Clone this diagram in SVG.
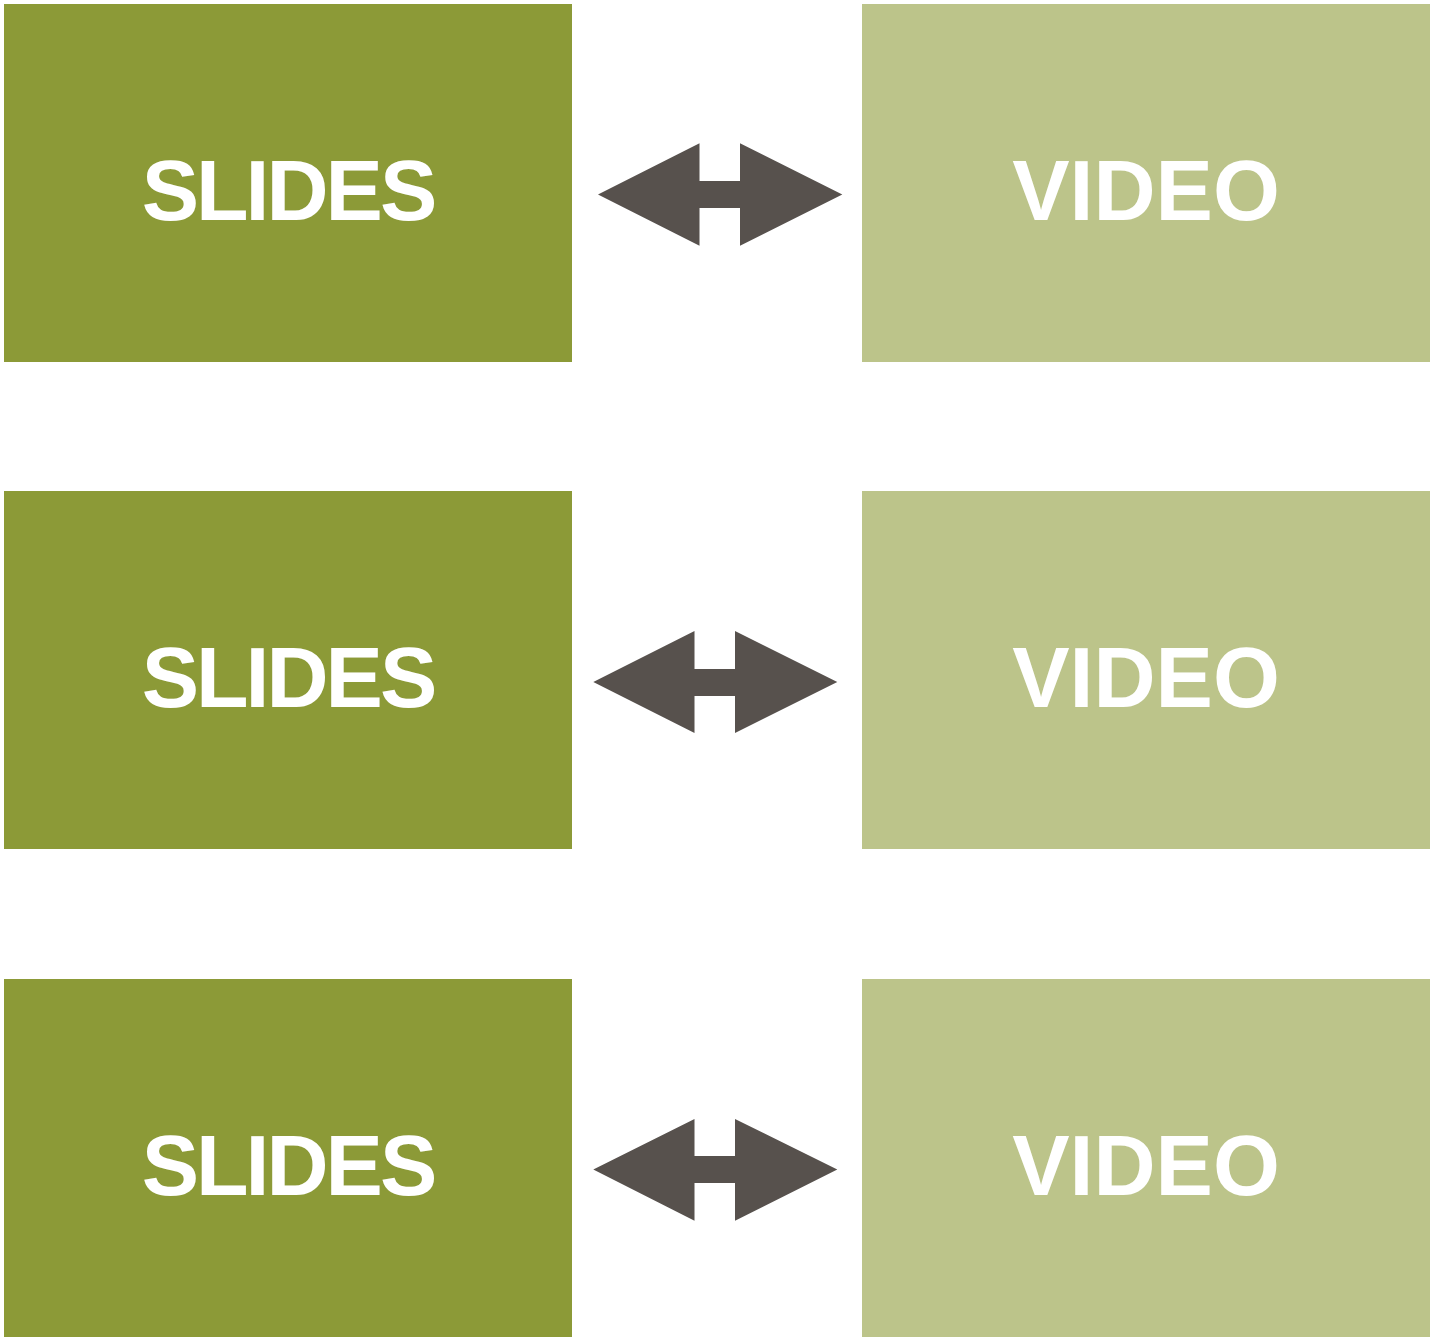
<svg xmlns="http://www.w3.org/2000/svg" width="1430" height="1339" viewBox="0 0 1430 1339">
<style>
.slides{fill:#8C9A37}
.video{fill:#BCC48A}
.lbl{fill:#fff;font-family:"Liberation Sans",Arial,sans-serif;font-weight:bold;font-size:86px;text-anchor:middle}
.arr{fill:#57514D}
</style>
<rect width="1430" height="1339" fill="#fff"/>
<g id="slides1"><rect class="slides" x="4" y="4" width="568" height="358"/><text class="lbl" x="288" y="220" letter-spacing="-3">SLIDES</text></g>
<g id="video1"><rect class="video" x="862" y="4" width="568" height="358"/><text class="lbl" x="1146" y="220">VIDEO</text></g>
<g id="slides2"><rect class="slides" x="4" y="491" width="568" height="358"/><text class="lbl" x="288" y="707" letter-spacing="-3">SLIDES</text></g>
<g id="video2"><rect class="video" x="862" y="491" width="568" height="358"/><text class="lbl" x="1146" y="707">VIDEO</text></g>
<g id="slides3"><rect class="slides" x="4" y="979" width="568" height="358"/><text class="lbl" x="288" y="1195" letter-spacing="-3">SLIDES</text></g>
<g id="video3"><rect class="video" x="862" y="979" width="568" height="358"/><text class="lbl" x="1146" y="1195">VIDEO</text></g>
<g id="connectors">
<path class="arr" d="M598,194.5 L699.5,143.3 L699.5,181 L740,181 L740,143.3 L842.3,194.5 L740,245.7 L740,208 L699.5,208 L699.5,245.7 Z"/>
<path class="arr" d="M593.3,682 L694.5,631 L694.5,669 L735,669 L735,631 L837.3,682 L735,733 L735,696 L694.5,696 L694.5,733 Z"/>
<path class="arr" d="M593.3,1169.5 L694.5,1119 L694.5,1156 L735,1156 L735,1119 L837.3,1169.5 L735,1220.7 L735,1183 L694.5,1183 L694.5,1220.7 Z"/>
</g>
</svg>
